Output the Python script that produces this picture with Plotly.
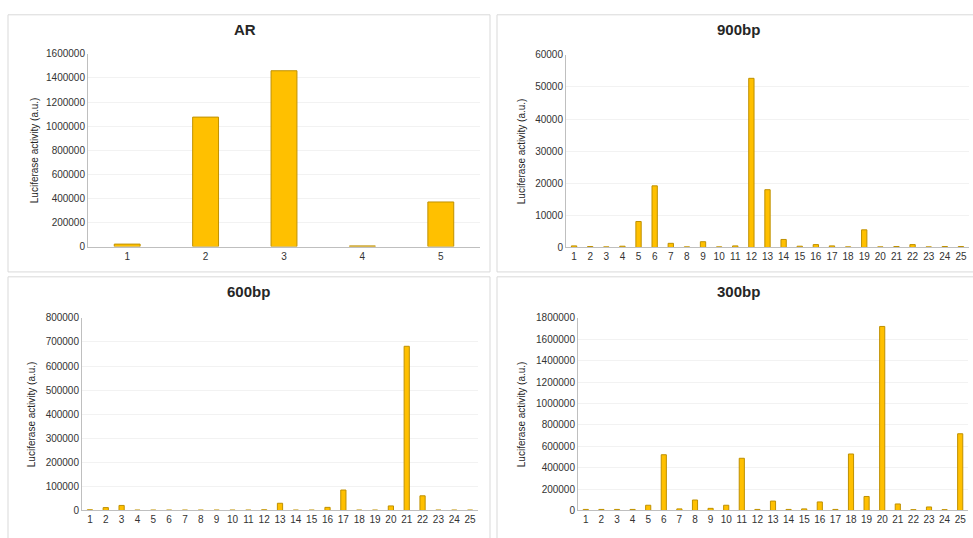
import plotly.graph_objects as go

W, H = 973, 538

# ---- data ----
ar_labels = ["1", "2", "3", "4", "5"]
ar_values = [20000, 1075000, 1460000, 5000, 370000]

bp_labels = [str(i) for i in range(1, 26)]
bp900_values = [500, 300, 200, 400, 8100, 19200, 1300, 200, 1800, 200,
                500, 52700, 18000, 2500, 400, 900, 500, 200, 5500, 200,
                300, 900, 200, 300, 300]
bp600_values = [3000, 12000, 21000, 2000, 2000, 2000, 2000, 2000, 2000, 2000,
                2000, 3000, 30000, 2000, 2000, 13000, 85000, 2000, 2000, 19000,
                682000, 61000, 2000, 2000, 2000]
bp300_values = [10000, 10000, 10000, 10000, 49000, 521000, 15000, 98000, 20000, 49000,
                488000, 10000, 88000, 10000, 15000, 80000, 10000, 528000, 131000, 1720000,
                61000, 8000, 33000, 8000, 717000]

titles = ["AR", "900bp", "600bp", "300bp"]
ytitle = "Luciferase activity (a.u.)"


def px(x):
    return x / W


def py(y):
    return 1 - y / H


FILL = "#FFC000"
EDGE = "#BF9000"
FONT = "Liberation Sans, Arial, sans-serif"

panels = [
    # labels, values, x-domain px, y-domain px (top,bottom), ymax, dtick, box, ytitle x, title x
    (ar_labels, ar_values, (88, 480), (49, 246), 1600000, 200000, (8, 9, 490, 272), 34, 245),
    (bp_labels, bp900_values, (566, 969), (50, 247), 60000, 10000, (497, 9, 980, 272), 521, 738),
    (bp_labels, bp600_values, (82, 478), (319, 516), 800000, 100000, (8, 277, 490, 545), 31, 248),
    (bp_labels, bp300_values, (578, 968), (319, 516), 1800000, 200000, (497, 277, 980, 545), 521, 738),
]

fig = go.Figure()
shapes = []
annotations = []
layout = {}

for i, (labels, values, xd, yd, ymax, dt, box, ytx, ttx) in enumerate(panels):
    n = i + 1
    xa = "x" if n == 1 else f"x{n}"
    ya = "y" if n == 1 else f"y{n}"
    xs = list(range(1, len(labels) + 1))
    fig.add_trace(go.Bar(
        x=xs, y=values, xaxis=xa, yaxis=ya, width=0.33,
        marker=dict(color=FILL, line=dict(color=EDGE, width=1)),
        showlegend=False, hoverinfo="x+y",
    ))
    xkey = "xaxis" if n == 1 else f"xaxis{n}"
    ykey = "yaxis" if n == 1 else f"yaxis{n}"
    layout[xkey] = dict(
        domain=[px(xd[0]), px(xd[1])], anchor=ya,
        range=[0.5, len(labels) + 0.5],
        tickmode="array", tickvals=xs, ticktext=labels,
        showline=True, linecolor="#bfbfbf", linewidth=1,
        showgrid=False, zeroline=False, ticks="",
        tickfont=dict(size=10, color="#333333", family=FONT),
        fixedrange=True,
    )
    layout[ykey] = dict(
        domain=[py(yd[1]), py(yd[0])], anchor=xa,
        range=[0, ymax], dtick=dt, tickformat="d",
        showline=True, linecolor="#bfbfbf", linewidth=1,
        showgrid=True, gridcolor="#f2f2f2", gridwidth=1,
        zeroline=False, ticks="",
        tickfont=dict(size=10, color="#333333", family=FONT),
        fixedrange=True,
    )
    shapes.append(dict(type="rect", xref="paper", yref="paper",
                       x0=px(box[0]), y0=py(box[3]), x1=px(box[2]), y1=py(box[1]),
                       line=dict(color="#d9d9d9", width=1), fillcolor="rgba(0,0,0,0)",
                       layer="below"))
    annotations.append(dict(
        text=f"<b>{titles[i]}</b>", xref="paper", yref="paper",
        x=px(ttx), y=py(box[1] + 15),
        xanchor="center", yanchor="middle", showarrow=False,
        font=dict(size=15, color="#262626", family=FONT),
    ))
    annotations.append(dict(
        text=ytitle, xref="paper", yref="paper",
        x=px(ytx), y=py((yd[0] + yd[1]) / 2), textangle=-90,
        xanchor="center", yanchor="middle", showarrow=False,
        font=dict(size=10, color="#262626", family=FONT),
    ))

fig.update_layout(
    width=W, height=H,
    margin=dict(l=0, r=0, t=0, b=0),
    paper_bgcolor="white", plot_bgcolor="white",
    shapes=shapes, annotations=annotations,
    font=dict(family=FONT),
    **layout,
)

fig.write_html(
    "out.html",
    config={"displayModeBar": False},
    post_script="document.body.style.margin='0';document.body.style.overflow='hidden';",
)
